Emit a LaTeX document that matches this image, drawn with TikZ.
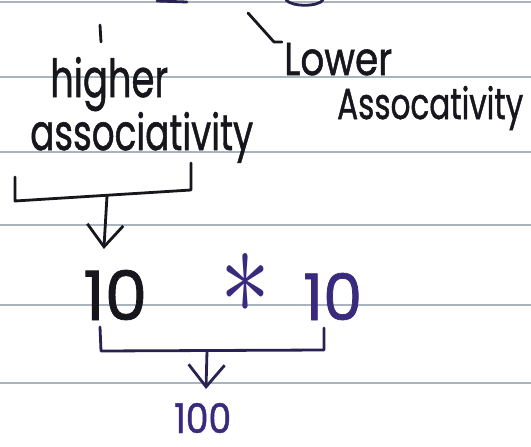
\documentclass[tikz,border=0pt]{standalone}
\usepackage{fontspec}
\setmainfont{Poppins}
\newfontfamily\inkfont{Poppins}[FakeBold=1.2]
\usetikzlibrary{arrows.meta}
\definecolor{ink}{RGB}{22,22,28}
\definecolor{pinkpurple}{RGB}{58,42,125}
\definecolor{darkpen}{RGB}{40,34,80}
\definecolor{rulecol}{RGB}{170,180,190}
\newcommand{\hwtext}[3]{\resizebox{#1}{#2}{\fontsize{30}{32}\inkfont #3}}
\begin{document}
\begin{tikzpicture}[x=1pt,y=-1pt,
  hw/.style={inner sep=0pt, anchor=base west, text=ink},
  hwp/.style={hw, text=pinkpurple},
  pen/.style={draw=ink, line width=2.8pt, line cap=round, line join=round},
  penp/.style={draw=darkpen, line width=2.8pt, line cap=round, line join=round},
  rulers/.style={draw=rulecol, line width=1.3pt},
  vtip/.style={-{Straight Barb[length=22pt,width=36pt,line width=2.8pt]}}]
\fill[white] (0,0) rectangle (531,447);
\useasboundingbox (0,0) rectangle (531,447);
% ruled lines
\foreach \yy in {2,77,152,225,305,383}
  \draw[rulers] (0,\yy) -- (531,\yy);
% cut-off ink at the top edge
\draw[penp] (157,1) -- (187,2);
\draw[penp] (286,0) .. controls (292,7) and (318,7) .. (323,0);
% small strokes
\draw[pen] (100,25) -- (101,42);
\draw[pen] (248,13) -- (274,42) -- (282,42);
% texts
\node[hw] (higher) at (50,97) {\hwtext{118pt}{40pt}{higher}};
\node[hw] (assoc) at (30,150) {\hwtext{223pt}{38pt}{associativity}};
\node[hw] (lower) at (284,75) {\hwtext{108pt}{32pt}{Lower}};
\node[hw] (assoc2) at (337,119) {\hwtext{186pt}{33pt}{Assocativity}};
\node[hw] (tenA) at (83,320) {\hwtext{64pt}{50pt}{10}};
\node[hwp, anchor=center] (star) at (245,283) {\resizebox{50pt}{60pt}{$\ast$}};
\node[hwp] (tenB) at (303,320) {\hwtext{59pt}{47pt}{10}};
\node[hwp] (hundred) at (174,433) {\hwtext{57pt}{30pt}{100}};
% upper bracket
\coordinate (b1l) at (15,177);
\coordinate (b1r) at (191,163);
\coordinate (b1m) at (107,196);
\draw[pen] (b1l) -- (15,201) -- (191,190) -- (b1r);
\draw[pen, vtip, shorten >=-2pt] (b1m) -- (104,247);
% lower bracket
\coordinate (b2l) at (100,327);
\coordinate (b2r) at (324,328);
\coordinate (b2m) at (207,351);
\draw[penp] (b2l) -- (101,351) -- (324,350) -- (b2r);
\draw[penp, vtip] (b2m) -- (206,389);
\end{tikzpicture}
\end{document}
